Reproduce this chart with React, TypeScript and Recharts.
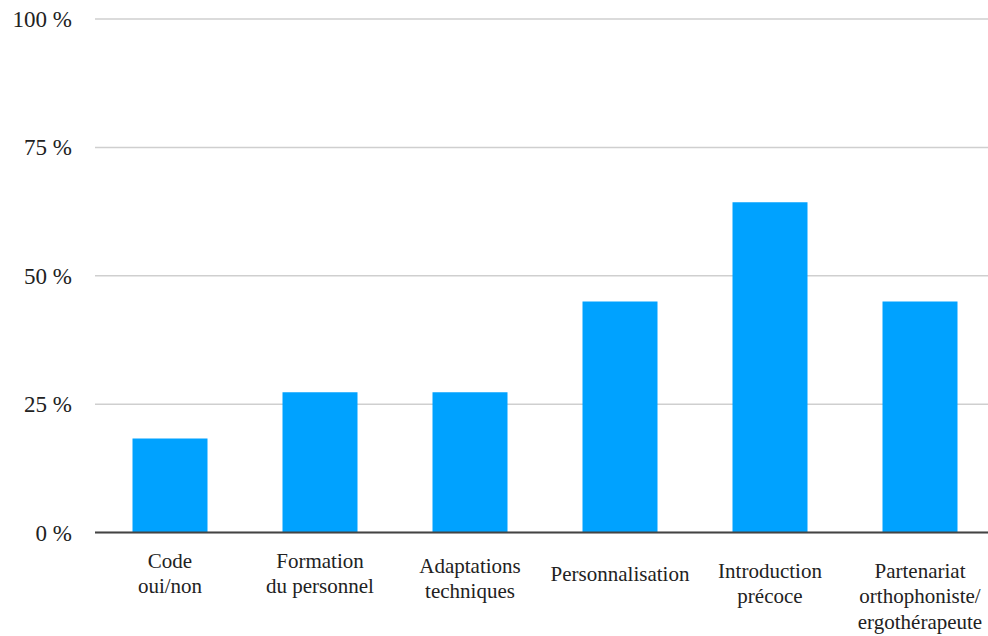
import { Bar, BarChart, CartesianGrid, XAxis, YAxis } from 'recharts';

// share of respondents per measure, in percent
const categories = [
  'Code oui/non',
  'Formation du personnel',
  'Adaptations techniques',
  'Personnalisation',
  'Introduction précoce',
  'Partenariat orthophoniste/ ergothérapeute',
];
const labelLines = [
  ['Code', 'oui/non'],
  ['Formation', 'du personnel'],
  ['Adaptations', 'techniques'],
  ['Personnalisation'],
  ['Introduction', 'précoce'],
  ['Partenariat', 'orthophoniste/', 'ergothérapeute'],
];
const values = [18.3, 27.3, 27.3, 45, 64.3, 45];
const yTicks = [0, 25, 50, 75, 100];

const data = categories.map((name, i) => ({ name, value: values[i] }));

const FONT = 'Liberation Serif';

// first-line offset below the axis for each category label
const lineStart = [27, 27, 32, 40, 37, 37];

function CategoryTick({ x, y, payload, index }: any) {
  const lines = labelLines[index] ?? [payload.value];
  return (
    <text x={x} y={y} textAnchor="middle" style={{ fontFamily: FONT, fontSize: 21 }} fill="#222">
      {lines.map((l: string, i: number) => (
        <tspan key={i} x={x} y={y + lineStart[index] + i * 25.5}>
          {l}
        </tspan>
      ))}
    </text>
  );
}

function ValueTick({ x, y, payload }: any) {
  return (
    <text x={x} y={y} dy={8} textAnchor="end" style={{ fontFamily: FONT, fontSize: 23 }} fill="#222">
      {`${payload.value} %`}
    </text>
  );
}

export default function App() {
  return (
    <div style={{ position: 'absolute', left: 0, top: 0, width: 988, height: 636, overflow: 'hidden', background: '#fff' }}>
      <BarChart
        width={1000}
        height={636}
        data={data}
        margin={{ top: 19, right: 5, left: 0, bottom: 0 }}
        barCategoryGap="25%"
      >
        <CartesianGrid vertical={false} stroke="#cfcfcf" strokeWidth={1.5} />
        <XAxis
          dataKey="name"
          height={103.5}
          interval={0}
          tick={<CategoryTick />}
          tickLine={false}
          axisLine={{ stroke: '#444', strokeWidth: 2 }}
        />
        <YAxis
          width={95}
          domain={[0, 100]}
          ticks={yTicks}
          tickLine={false}
          axisLine={false}
          tickSize={0}
          tickMargin={23}
          tick={<ValueTick />}
        />
        <Bar dataKey="value" fill="#00a2ff" isAnimationActive={false} />
      </BarChart>
    </div>
  );
}
